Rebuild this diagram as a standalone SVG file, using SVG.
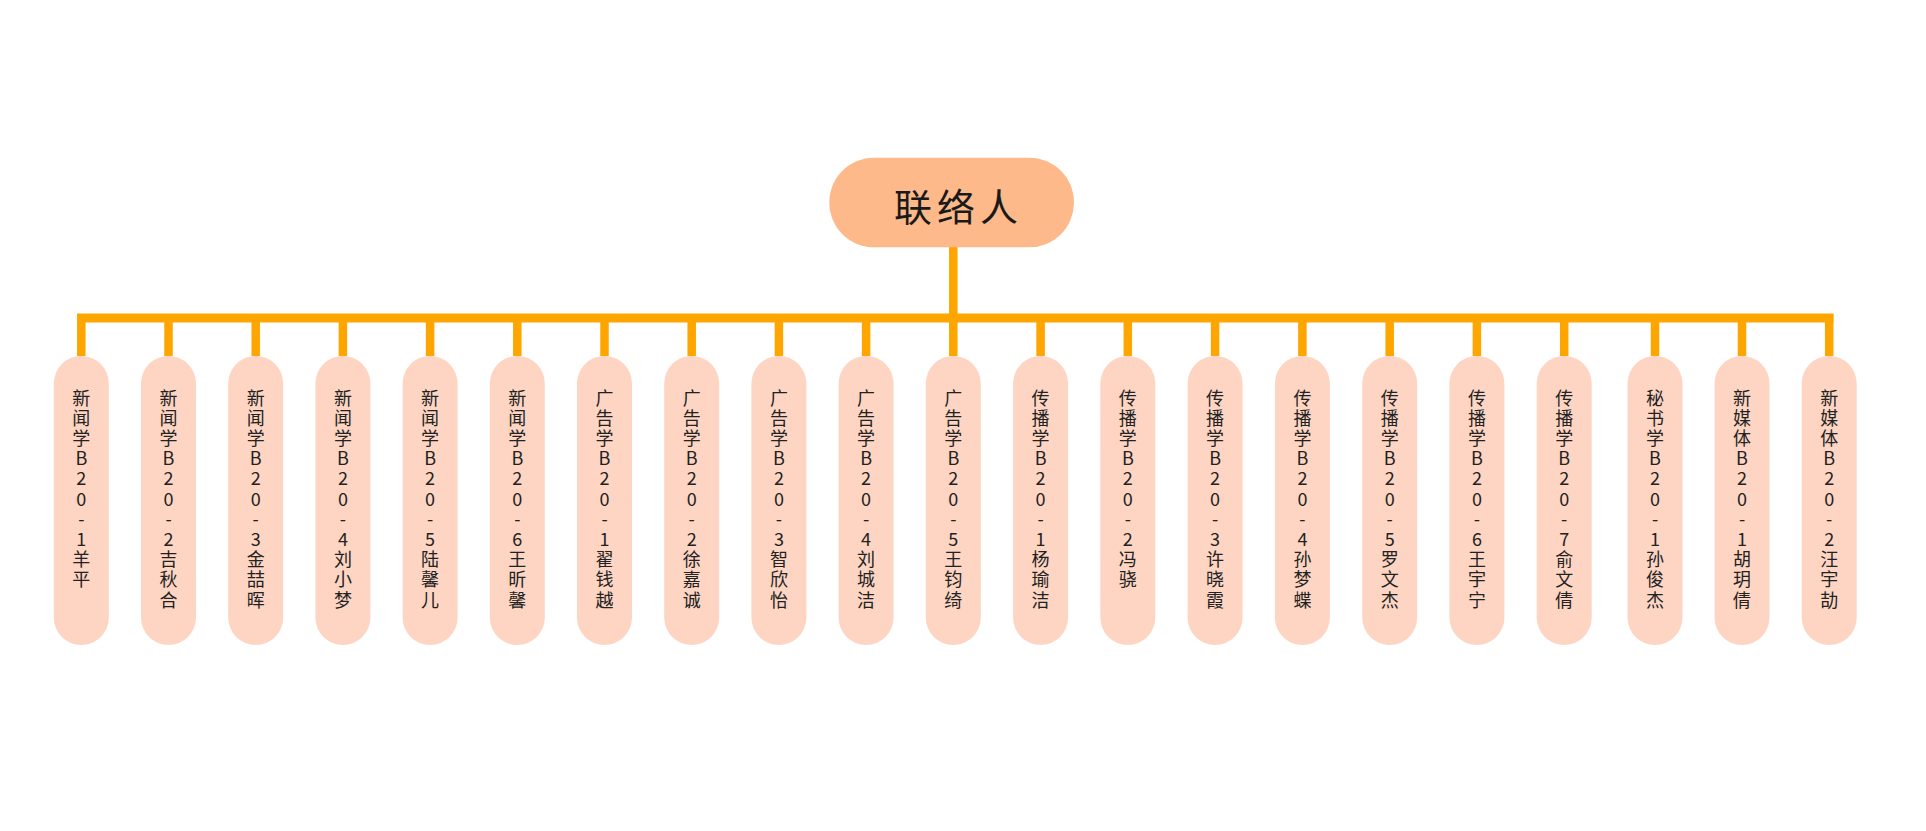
<svg xmlns="http://www.w3.org/2000/svg" width="1926" height="831" viewBox="0 0 1926 831">
<style>
.bg{fill:#ffffff}
.root{fill:#FDB98A}
.node{fill:#FDD5C2}
.ln{stroke:#FFA500;fill:none;stroke-linecap:butt}
.rt{font-family:"Noto Sans CJK SC","Noto Sans",sans-serif;font-size:38px;fill:#1a1a1a;letter-spacing:5px;dominant-baseline:central}
.t{font-family:"Noto Sans CJK SC","Noto Sans",sans-serif;font-size:18px;fill:#222222;text-anchor:middle;dominant-baseline:central}
</style>
<rect class="bg" x="0" y="0" width="1926" height="831"/>
<g id="connectors">
<line class="ln" x1="953.3" y1="247" x2="953.3" y2="318" stroke-width="8.5"/>
<line class="ln" x1="77" y1="318" x2="1833.4" y2="318" stroke-width="9"/>
<path class="ln" stroke-width="8.5" d="M81.3 314V356M168.5 314V356M255.7 314V356M342.9 314V356M430.1 314V356M517.3 314V356M604.5 314V356M691.7 314V356M778.9 314V356M866.1 314V356M953.3 314V356M1040.6 314V356M1127.8 314V356M1215.1 314V356M1302.4 314V356M1389.7 314V356M1476.9 314V356M1564.2 314V356M1655 314V356M1742 314V356M1829.2 314V356"/>
</g>
<g id="root">
<rect class="root" x="829.3" y="157.7" width="244.7" height="89.6" rx="44.8"/>
<text class="rt" x="894" y="204">联络人</text>
</g>
<g id="n1"><rect class="node" x="53.8" y="356" width="55" height="289" rx="27.5"/><text class="t" y="396.5"><tspan x="81.3">新</tspan><tspan x="81.3" dy="20.2">闻</tspan><tspan x="81.3" dy="20.2">学</tspan><tspan x="81.3" dy="20.2">B</tspan><tspan x="81.3" dy="20.2">2</tspan><tspan x="81.3" dy="20.2">0</tspan><tspan x="81.3" dy="20.2">-</tspan><tspan x="81.3" dy="20.2">1</tspan><tspan x="81.3" dy="20.2">羊</tspan><tspan x="81.3" dy="20.2">平</tspan></text></g>
<g id="n2"><rect class="node" x="141" y="356" width="55" height="289" rx="27.5"/><text class="t" y="396.5"><tspan x="168.5">新</tspan><tspan x="168.5" dy="20.2">闻</tspan><tspan x="168.5" dy="20.2">学</tspan><tspan x="168.5" dy="20.2">B</tspan><tspan x="168.5" dy="20.2">2</tspan><tspan x="168.5" dy="20.2">0</tspan><tspan x="168.5" dy="20.2">-</tspan><tspan x="168.5" dy="20.2">2</tspan><tspan x="168.5" dy="20.2">吉</tspan><tspan x="168.5" dy="20.2">秋</tspan><tspan x="168.5" dy="20.2">合</tspan></text></g>
<g id="n3"><rect class="node" x="228.2" y="356" width="55" height="289" rx="27.5"/><text class="t" y="396.5"><tspan x="255.7">新</tspan><tspan x="255.7" dy="20.2">闻</tspan><tspan x="255.7" dy="20.2">学</tspan><tspan x="255.7" dy="20.2">B</tspan><tspan x="255.7" dy="20.2">2</tspan><tspan x="255.7" dy="20.2">0</tspan><tspan x="255.7" dy="20.2">-</tspan><tspan x="255.7" dy="20.2">3</tspan><tspan x="255.7" dy="20.2">金</tspan><tspan x="255.7" dy="20.2">喆</tspan><tspan x="255.7" dy="20.2">晖</tspan></text></g>
<g id="n4"><rect class="node" x="315.4" y="356" width="55" height="289" rx="27.5"/><text class="t" y="396.5"><tspan x="342.9">新</tspan><tspan x="342.9" dy="20.2">闻</tspan><tspan x="342.9" dy="20.2">学</tspan><tspan x="342.9" dy="20.2">B</tspan><tspan x="342.9" dy="20.2">2</tspan><tspan x="342.9" dy="20.2">0</tspan><tspan x="342.9" dy="20.2">-</tspan><tspan x="342.9" dy="20.2">4</tspan><tspan x="342.9" dy="20.2">刘</tspan><tspan x="342.9" dy="20.2">小</tspan><tspan x="342.9" dy="20.2">梦</tspan></text></g>
<g id="n5"><rect class="node" x="402.6" y="356" width="55" height="289" rx="27.5"/><text class="t" y="396.5"><tspan x="430.1">新</tspan><tspan x="430.1" dy="20.2">闻</tspan><tspan x="430.1" dy="20.2">学</tspan><tspan x="430.1" dy="20.2">B</tspan><tspan x="430.1" dy="20.2">2</tspan><tspan x="430.1" dy="20.2">0</tspan><tspan x="430.1" dy="20.2">-</tspan><tspan x="430.1" dy="20.2">5</tspan><tspan x="430.1" dy="20.2">陆</tspan><tspan x="430.1" dy="20.2">馨</tspan><tspan x="430.1" dy="20.2">儿</tspan></text></g>
<g id="n6"><rect class="node" x="489.8" y="356" width="55" height="289" rx="27.5"/><text class="t" y="396.5"><tspan x="517.3">新</tspan><tspan x="517.3" dy="20.2">闻</tspan><tspan x="517.3" dy="20.2">学</tspan><tspan x="517.3" dy="20.2">B</tspan><tspan x="517.3" dy="20.2">2</tspan><tspan x="517.3" dy="20.2">0</tspan><tspan x="517.3" dy="20.2">-</tspan><tspan x="517.3" dy="20.2">6</tspan><tspan x="517.3" dy="20.2">王</tspan><tspan x="517.3" dy="20.2">昕</tspan><tspan x="517.3" dy="20.2">馨</tspan></text></g>
<g id="n7"><rect class="node" x="577" y="356" width="55" height="289" rx="27.5"/><text class="t" y="396.5"><tspan x="604.5">广</tspan><tspan x="604.5" dy="20.2">告</tspan><tspan x="604.5" dy="20.2">学</tspan><tspan x="604.5" dy="20.2">B</tspan><tspan x="604.5" dy="20.2">2</tspan><tspan x="604.5" dy="20.2">0</tspan><tspan x="604.5" dy="20.2">-</tspan><tspan x="604.5" dy="20.2">1</tspan><tspan x="604.5" dy="20.2">翟</tspan><tspan x="604.5" dy="20.2">钱</tspan><tspan x="604.5" dy="20.2">越</tspan></text></g>
<g id="n8"><rect class="node" x="664.2" y="356" width="55" height="289" rx="27.5"/><text class="t" y="396.5"><tspan x="691.7">广</tspan><tspan x="691.7" dy="20.2">告</tspan><tspan x="691.7" dy="20.2">学</tspan><tspan x="691.7" dy="20.2">B</tspan><tspan x="691.7" dy="20.2">2</tspan><tspan x="691.7" dy="20.2">0</tspan><tspan x="691.7" dy="20.2">-</tspan><tspan x="691.7" dy="20.2">2</tspan><tspan x="691.7" dy="20.2">徐</tspan><tspan x="691.7" dy="20.2">嘉</tspan><tspan x="691.7" dy="20.2">诚</tspan></text></g>
<g id="n9"><rect class="node" x="751.4" y="356" width="55" height="289" rx="27.5"/><text class="t" y="396.5"><tspan x="778.9">广</tspan><tspan x="778.9" dy="20.2">告</tspan><tspan x="778.9" dy="20.2">学</tspan><tspan x="778.9" dy="20.2">B</tspan><tspan x="778.9" dy="20.2">2</tspan><tspan x="778.9" dy="20.2">0</tspan><tspan x="778.9" dy="20.2">-</tspan><tspan x="778.9" dy="20.2">3</tspan><tspan x="778.9" dy="20.2">智</tspan><tspan x="778.9" dy="20.2">欣</tspan><tspan x="778.9" dy="20.2">怡</tspan></text></g>
<g id="n10"><rect class="node" x="838.6" y="356" width="55" height="289" rx="27.5"/><text class="t" y="396.5"><tspan x="866.1">广</tspan><tspan x="866.1" dy="20.2">告</tspan><tspan x="866.1" dy="20.2">学</tspan><tspan x="866.1" dy="20.2">B</tspan><tspan x="866.1" dy="20.2">2</tspan><tspan x="866.1" dy="20.2">0</tspan><tspan x="866.1" dy="20.2">-</tspan><tspan x="866.1" dy="20.2">4</tspan><tspan x="866.1" dy="20.2">刘</tspan><tspan x="866.1" dy="20.2">城</tspan><tspan x="866.1" dy="20.2">洁</tspan></text></g>
<g id="n11"><rect class="node" x="925.8" y="356" width="55" height="289" rx="27.5"/><text class="t" y="396.5"><tspan x="953.3">广</tspan><tspan x="953.3" dy="20.2">告</tspan><tspan x="953.3" dy="20.2">学</tspan><tspan x="953.3" dy="20.2">B</tspan><tspan x="953.3" dy="20.2">2</tspan><tspan x="953.3" dy="20.2">0</tspan><tspan x="953.3" dy="20.2">-</tspan><tspan x="953.3" dy="20.2">5</tspan><tspan x="953.3" dy="20.2">王</tspan><tspan x="953.3" dy="20.2">钧</tspan><tspan x="953.3" dy="20.2">绮</tspan></text></g>
<g id="n12"><rect class="node" x="1013.1" y="356" width="55" height="289" rx="27.5"/><text class="t" y="396.5"><tspan x="1040.6">传</tspan><tspan x="1040.6" dy="20.2">播</tspan><tspan x="1040.6" dy="20.2">学</tspan><tspan x="1040.6" dy="20.2">B</tspan><tspan x="1040.6" dy="20.2">2</tspan><tspan x="1040.6" dy="20.2">0</tspan><tspan x="1040.6" dy="20.2">-</tspan><tspan x="1040.6" dy="20.2">1</tspan><tspan x="1040.6" dy="20.2">杨</tspan><tspan x="1040.6" dy="20.2">瑜</tspan><tspan x="1040.6" dy="20.2">洁</tspan></text></g>
<g id="n13"><rect class="node" x="1100.3" y="356" width="55" height="289" rx="27.5"/><text class="t" y="396.5"><tspan x="1127.8">传</tspan><tspan x="1127.8" dy="20.2">播</tspan><tspan x="1127.8" dy="20.2">学</tspan><tspan x="1127.8" dy="20.2">B</tspan><tspan x="1127.8" dy="20.2">2</tspan><tspan x="1127.8" dy="20.2">0</tspan><tspan x="1127.8" dy="20.2">-</tspan><tspan x="1127.8" dy="20.2">2</tspan><tspan x="1127.8" dy="20.2">冯</tspan><tspan x="1127.8" dy="20.2">骁</tspan></text></g>
<g id="n14"><rect class="node" x="1187.6" y="356" width="55" height="289" rx="27.5"/><text class="t" y="396.5"><tspan x="1215.1">传</tspan><tspan x="1215.1" dy="20.2">播</tspan><tspan x="1215.1" dy="20.2">学</tspan><tspan x="1215.1" dy="20.2">B</tspan><tspan x="1215.1" dy="20.2">2</tspan><tspan x="1215.1" dy="20.2">0</tspan><tspan x="1215.1" dy="20.2">-</tspan><tspan x="1215.1" dy="20.2">3</tspan><tspan x="1215.1" dy="20.2">许</tspan><tspan x="1215.1" dy="20.2">晓</tspan><tspan x="1215.1" dy="20.2">霞</tspan></text></g>
<g id="n15"><rect class="node" x="1274.9" y="356" width="55" height="289" rx="27.5"/><text class="t" y="396.5"><tspan x="1302.4">传</tspan><tspan x="1302.4" dy="20.2">播</tspan><tspan x="1302.4" dy="20.2">学</tspan><tspan x="1302.4" dy="20.2">B</tspan><tspan x="1302.4" dy="20.2">2</tspan><tspan x="1302.4" dy="20.2">0</tspan><tspan x="1302.4" dy="20.2">-</tspan><tspan x="1302.4" dy="20.2">4</tspan><tspan x="1302.4" dy="20.2">孙</tspan><tspan x="1302.4" dy="20.2">梦</tspan><tspan x="1302.4" dy="20.2">蝶</tspan></text></g>
<g id="n16"><rect class="node" x="1362.2" y="356" width="55" height="289" rx="27.5"/><text class="t" y="396.5"><tspan x="1389.7">传</tspan><tspan x="1389.7" dy="20.2">播</tspan><tspan x="1389.7" dy="20.2">学</tspan><tspan x="1389.7" dy="20.2">B</tspan><tspan x="1389.7" dy="20.2">2</tspan><tspan x="1389.7" dy="20.2">0</tspan><tspan x="1389.7" dy="20.2">-</tspan><tspan x="1389.7" dy="20.2">5</tspan><tspan x="1389.7" dy="20.2">罗</tspan><tspan x="1389.7" dy="20.2">文</tspan><tspan x="1389.7" dy="20.2">杰</tspan></text></g>
<g id="n17"><rect class="node" x="1449.4" y="356" width="55" height="289" rx="27.5"/><text class="t" y="396.5"><tspan x="1476.9">传</tspan><tspan x="1476.9" dy="20.2">播</tspan><tspan x="1476.9" dy="20.2">学</tspan><tspan x="1476.9" dy="20.2">B</tspan><tspan x="1476.9" dy="20.2">2</tspan><tspan x="1476.9" dy="20.2">0</tspan><tspan x="1476.9" dy="20.2">-</tspan><tspan x="1476.9" dy="20.2">6</tspan><tspan x="1476.9" dy="20.2">王</tspan><tspan x="1476.9" dy="20.2">宇</tspan><tspan x="1476.9" dy="20.2">宁</tspan></text></g>
<g id="n18"><rect class="node" x="1536.7" y="356" width="55" height="289" rx="27.5"/><text class="t" y="396.5"><tspan x="1564.2">传</tspan><tspan x="1564.2" dy="20.2">播</tspan><tspan x="1564.2" dy="20.2">学</tspan><tspan x="1564.2" dy="20.2">B</tspan><tspan x="1564.2" dy="20.2">2</tspan><tspan x="1564.2" dy="20.2">0</tspan><tspan x="1564.2" dy="20.2">-</tspan><tspan x="1564.2" dy="20.2">7</tspan><tspan x="1564.2" dy="20.2">俞</tspan><tspan x="1564.2" dy="20.2">文</tspan><tspan x="1564.2" dy="20.2">倩</tspan></text></g>
<g id="n19"><rect class="node" x="1627.5" y="356" width="55" height="289" rx="27.5"/><text class="t" y="396.5"><tspan x="1655">秘</tspan><tspan x="1655" dy="20.2">书</tspan><tspan x="1655" dy="20.2">学</tspan><tspan x="1655" dy="20.2">B</tspan><tspan x="1655" dy="20.2">2</tspan><tspan x="1655" dy="20.2">0</tspan><tspan x="1655" dy="20.2">-</tspan><tspan x="1655" dy="20.2">1</tspan><tspan x="1655" dy="20.2">孙</tspan><tspan x="1655" dy="20.2">俊</tspan><tspan x="1655" dy="20.2">杰</tspan></text></g>
<g id="n20"><rect class="node" x="1714.5" y="356" width="55" height="289" rx="27.5"/><text class="t" y="396.5"><tspan x="1742">新</tspan><tspan x="1742" dy="20.2">媒</tspan><tspan x="1742" dy="20.2">体</tspan><tspan x="1742" dy="20.2">B</tspan><tspan x="1742" dy="20.2">2</tspan><tspan x="1742" dy="20.2">0</tspan><tspan x="1742" dy="20.2">-</tspan><tspan x="1742" dy="20.2">1</tspan><tspan x="1742" dy="20.2">胡</tspan><tspan x="1742" dy="20.2">玥</tspan><tspan x="1742" dy="20.2">倩</tspan></text></g>
<g id="n21"><rect class="node" x="1801.7" y="356" width="55" height="289" rx="27.5"/><text class="t" y="396.5"><tspan x="1829.2">新</tspan><tspan x="1829.2" dy="20.2">媒</tspan><tspan x="1829.2" dy="20.2">体</tspan><tspan x="1829.2" dy="20.2">B</tspan><tspan x="1829.2" dy="20.2">2</tspan><tspan x="1829.2" dy="20.2">0</tspan><tspan x="1829.2" dy="20.2">-</tspan><tspan x="1829.2" dy="20.2">2</tspan><tspan x="1829.2" dy="20.2">汪</tspan><tspan x="1829.2" dy="20.2">宇</tspan><tspan x="1829.2" dy="20.2">劼</tspan></text></g>
</svg>
